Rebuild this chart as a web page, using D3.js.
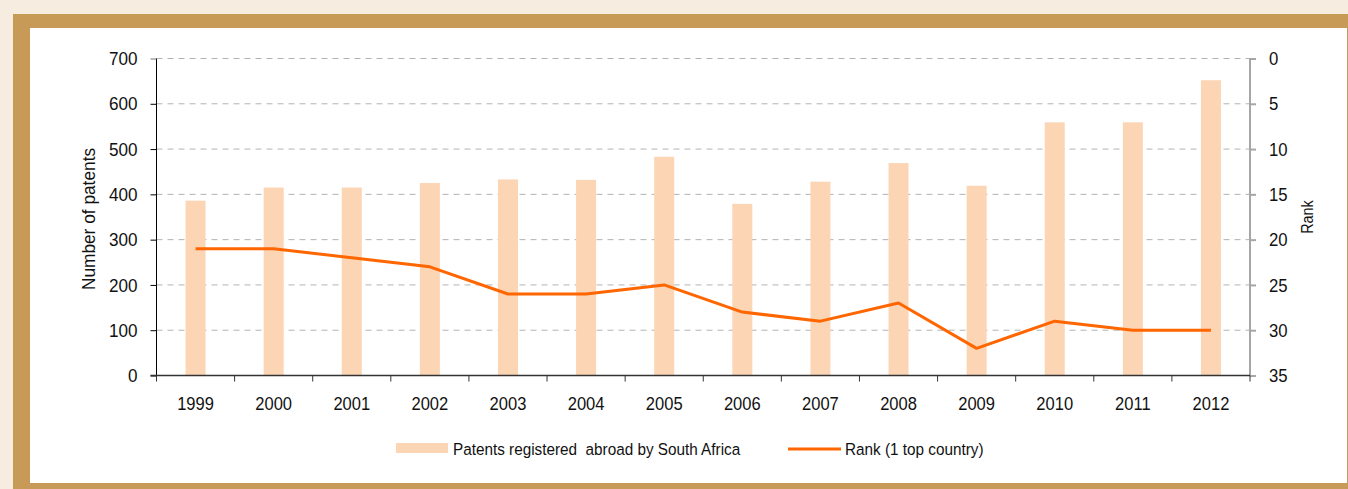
<!DOCTYPE html>
<html>
<head>
<meta charset="utf-8">
<script src="https://cdn.jsdelivr.net/npm/d3@7"></script>
<style>
  body { margin: 0; background: #f6ede0; }
  svg { display: block; }
  text { font-family: "Liberation Sans", Arial, sans-serif; fill: #111; }
</style>
</head>
<body>
<svg id="chart" width="1348" height="489"></svg>
<script>
// data
var years = ['1999', '2000', '2001', '2002', '2003', '2004', '2005', '2006', '2007', '2008', '2009', '2010', '2011', '2012'];
var patents = [386, 415, 415, 425, 433, 432, 483, 379, 428, 469, 419, 559, 559, 652];
var ranks = [21, 21, 22, 23, 26, 26, 25, 28, 29, 27, 32, 29, 30, 30];
var leftTicks = [0, 100, 200, 300, 400, 500, 600, 700];
var rightTicks = [0, 5, 10, 15, 20, 25, 30, 35];

var svg = d3.select('#chart');

// text in the original is a bit narrow, squeeze it horizontally
function squash(sel, sx, extra) {
    sel.each(function () {
        var t = d3.select(this);
        var tx = +t.attr('x') || 0, ty = +t.attr('y') || 0;
        t.attr('x', 0).attr('y', 0)
            .attr('transform', 'translate(' + tx + ',' + ty + ')' + (extra || '') + ' scale(' + sx + ',1)');
    });
}

// frame
svg.append('rect').attr('x', 13).attr('y', 14).attr('width', 1348 - 13).attr('height', 489 - 14).attr('fill', '#c89a58');
svg.append('rect').attr('x', 30).attr('y', 28).attr('width', 1347 - 30).attr('height', 483 - 28).attr('fill', '#fff');

var pLeft = 156.5, pRight = 1250, pTop = 58.5, pBottom = 375.5;

var x = d3.scaleBand().domain(years).range([pLeft, pRight]);
var y = d3.scaleLinear().domain([0, 700]).range([pBottom, pTop]);
var yRank = d3.scaleLinear().domain([0, 35]).range([pTop, pBottom]);

// grid lines
svg.append('g').selectAll('line').data(leftTicks.slice(1)).enter().append('line')
    .attr('x1', pLeft).attr('x2', pRight)
    .attr('y1', d => y(d)).attr('y2', d => y(d))
    .attr('stroke', '#b3b3b3').attr('stroke-width', 1).attr('stroke-dasharray', '6,5');

// bars
var barW = 20;
svg.append('g').selectAll('rect').data(patents).enter().append('rect')
    .attr('x', (d, i) => x(years[i]) + x.bandwidth() / 2 - barW / 2)
    .attr('y', d => y(d))
    .attr('width', barW)
    .attr('height', d => pBottom - y(d))
    .attr('fill', '#fcd5b4');

// rank line
var line = d3.line()
    .x((d, i) => x(years[i]) + x.bandwidth() / 2)
    .y(d => yRank(d));
svg.append('path').datum(ranks).attr('d', line)
    .attr('fill', 'none').attr('stroke', '#ff6600').attr('stroke-width', 3).attr('stroke-linejoin', 'round');

// left axis
var gl = svg.append('g').attr('transform', 'translate(' + pLeft + ',0)')
    .call(d3.axisLeft(y).tickValues(leftTicks).tickSize(6).tickPadding(13));
gl.select('.domain').attr('stroke', '#000').attr('d', 'M0,' + pTop + 'V' + pBottom);
gl.selectAll('.tick line').attr('stroke', '#000');
gl.selectAll('.tick line').filter(d => d == 700).attr('stroke', '#777');
gl.selectAll('text').style('font-size', '19px').attr('fill', '#111').attr('font-family', null);
squash(gl.selectAll('text'), 0.9);

// right axis
var gr = svg.append('g').attr('transform', 'translate(' + pRight + ',0)')
    .call(d3.axisRight(yRank).tickValues(rightTicks).tickSize(6).tickPadding(13));
gr.select('.domain').attr('stroke', '#a6a6a6').attr('stroke-width', 2).attr('d', 'M0,' + pTop + 'V' + pBottom);
gr.selectAll('.tick line').attr('stroke', '#a6a6a6').attr('stroke-width', 2);
gr.selectAll('text').style('font-size', '19px').attr('fill', '#111').attr('font-family', null);
squash(gr.selectAll('text'), 0.88);

// bottom axis
var gb = svg.append('g').attr('transform', 'translate(0,' + pBottom + ')');
gb.append('line').attr('x1', pLeft - 6).attr('x2', pRight).attr('y1', 0).attr('y2', 0).attr('stroke', '#333').attr('stroke-width', 1.5);
gb.selectAll('.tk').data(years.concat(['end'])).enter().append('line')
    .attr('x1', (d, i) => pLeft + i * x.bandwidth()).attr('x2', (d, i) => pLeft + i * x.bandwidth())
    .attr('y1', 0).attr('y2', 6).attr('stroke', '#333');
var xl = gb.selectAll('text').data(years).enter().append('text')
    .attr('x', d => x(d) + x.bandwidth() / 2).attr('y', 34)
    .attr('text-anchor', 'middle').style('font-size', '19px').text(d => d);
squash(xl, 0.87);

// axis titles
var t1 = svg.append('text').attr('x', 95).attr('y', 219)
    .attr('text-anchor', 'middle').style('font-size', '19px').text('Number of patents');
squash(t1, 0.91, ' rotate(-90)');
var t2 = svg.append('text').attr('x', 1313).attr('y', 217)
    .attr('text-anchor', 'middle').style('font-size', '16px').text('Rank');
squash(t2, 0.9, ' rotate(-90)');

// legend
var lg = svg.append('g');
lg.append('rect').attr('x', 396).attr('y', 443).attr('width', 52).attr('height', 10).attr('fill', '#fcd5b4');
var l1 = lg.append('text').attr('x', 453).attr('y', 455).style('font-size', '17px').style('white-space', 'pre')
    .text('Patents registered  abroad by South Africa');
lg.append('line').attr('x1', 788).attr('x2', 841).attr('y1', 449).attr('y2', 449)
    .attr('stroke', '#ff6600').attr('stroke-width', 3);
var l2 = lg.append('text').attr('x', 845).attr('y', 455).style('font-size', '17px').text('Rank (1 top country)');
squash(l1, 0.9);
squash(l2, 0.9);
</script>
</body>
</html>
